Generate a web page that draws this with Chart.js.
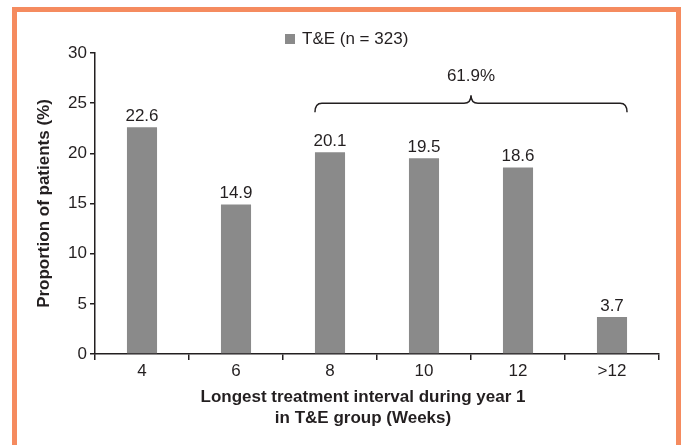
<!DOCTYPE html>
<html>
<head>
<meta charset="utf-8">
<script src="https://cdn.jsdelivr.net/npm/chart.js@4"></script>
<style>
  html, body { margin: 0; padding: 0; background: #fff; overflow: hidden; }
  #wrap { position: relative; width: 684px; height: 445px; }
  #frame {
    position: absolute; left: 12px; top: 7px; width: 669px; height: 470px;
    border: 5px solid #f58b5f; border-bottom: none; box-sizing: border-box;
  }
  #c { position: absolute; left: 0; top: 0; }
</style>
</head>
<body>
<div id="wrap">
  <div id="frame"></div>
  <canvas id="c" width="684" height="445"></canvas>
</div>
<script>
// Longest treatment interval in year 1, T&E group
const categories = ['4', '6', '8', '10', '12', '>12'];
const proportions = [22.6, 14.9, 20.1, 19.5, 18.6, 3.7];
const yTicks = [0, 5, 10, 15, 20, 25, 30];
const seriesLabel = 'T&E (n = 323)';
const bracketFrom = 2;   // first category under the brace (8 weeks)
const bracketTo = 5;     // last category under the brace (>12 weeks)
const xTitleLines = ['Longest treatment interval during year 1', 'in T&E group (Weeks)'];
const yTitle = 'Proportion of patients (%)';

const FONT = "'Liberation Sans', Arial, sans-serif";
const INK = '#231f20';
const BAR = '#8a8a8a';
const FS = 17;
Chart.defaults.font.family = FONT;
Chart.defaults.color = INK;

// Legend, value labels, brace and axis titles
const decorations = {
  id: 'decorations',
  afterDatasetsDraw(chart) {
    const { ctx, chartArea, scales } = chart;
    const meta = chart.getDatasetMeta(0);
    const ds = chart.data.datasets[0];
    ctx.save();

    // legend
    ctx.fillStyle = ds.backgroundColor;
    ctx.fillRect(285, 34, 10, 10);
    ctx.fillStyle = INK;
    ctx.font = `${FS}px ${FONT}`;
    ctx.textAlign = 'left';
    ctx.textBaseline = 'middle';
    ctx.fillText(ds.label, 302, 39);

    // value labels above each bar
    ctx.textAlign = 'center';
    meta.data.forEach((bar, i) => {
      ctx.fillText(ds.data[i].toFixed(1), bar.x, bar.y - 11);
    });

    // brace over the longer intervals
    const first = meta.data[bracketFrom];
    const last = meta.data[bracketTo];
    const L = first.x - first.width / 2;
    const R = last.x + last.width / 2;
    const M = (L + R) / 2;
    const yH = scales.y.getPixelForValue(25);
    const yEnd = scales.y.getPixelForValue(24.1);
    const yPeak = scales.y.getPixelForValue(25.8);
    const r = 7;
    ctx.strokeStyle = INK;
    ctx.lineWidth = 1.5;
    ctx.beginPath();
    ctx.moveTo(L, yEnd);
    ctx.quadraticCurveTo(L, yH, L + r, yH);
    ctx.lineTo(M - r, yH);
    ctx.quadraticCurveTo(M, yH, M, yPeak);
    ctx.quadraticCurveTo(M, yH, M + r, yH);
    ctx.lineTo(R - r, yH);
    ctx.quadraticCurveTo(R, yH, R, yEnd);
    ctx.stroke();
    let sum = 0;
    for (let i = bracketFrom; i <= bracketTo; i++) sum += ds.data[i];
    ctx.fillText(sum.toFixed(1) + '%', M, scales.y.getPixelForValue(27.7));

    // axis titles
    ctx.font = `bold ${FS}px ${FONT}`;
    const cx = (chartArea.left + chartArea.right) / 2 - 14;
    ctx.fillText(xTitleLines[0], cx, 397);
    ctx.fillText(xTitleLines[1], cx, 418);
    ctx.translate(44, (chartArea.top + chartArea.bottom) / 2);
    ctx.rotate(-Math.PI / 2);
    ctx.fillText(yTitle, 0, 0);
    ctx.restore();
  }
};

new Chart(document.getElementById('c'), {
  type: 'bar',
  data: {
    labels: categories,
    datasets: [{
      label: seriesLabel,
      data: proportions,
      backgroundColor: BAR,
      categoryPercentage: 1,
      barPercentage: 0.32
    }]
  },
  options: {
    responsive: false,
    animation: false,
    layout: { padding: { top: 53, right: 25, left: 0, bottom: 0 } },
    plugins: { legend: { display: false }, tooltip: { enabled: false } },
    scales: {
      x: {
        grid: { drawOnChartArea: false, drawTicks: true, tickLength: 6, color: INK, lineWidth: 1.5, offset: true },
        border: { color: INK, width: 1.5 },
        ticks: { font: { size: FS }, padding: 1, color: INK },
        afterFit(s) { s.height = 91; }
      },
      y: {
        min: 0, max: 30,
        afterBuildTicks(s) { s.ticks = yTicks.map(v => ({ value: v })); },
        grid: { drawOnChartArea: false, tickLength: 5, color: INK, lineWidth: 1.5 },
        border: { color: INK, width: 1.5 },
        ticks: { font: { size: FS }, padding: 3, color: INK },
        afterFit(s) { s.width = 95; }
      }
    }
  },
  plugins: [decorations]
});
</script>
</body>
</html>
